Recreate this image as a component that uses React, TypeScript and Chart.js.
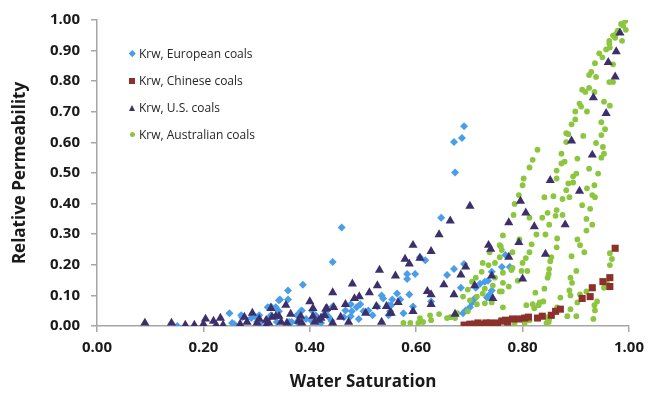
import React, { useEffect, useRef } from "react";
import { Chart, registerables } from "chart.js";

Chart.register(...registerables);

// Axis setup
const xMin = 0;
const xMax = 1;
const xStep = 0.2;
const yMin = 0;
const yMax = 1;
const yStep = 0.1;

const xTitle = "Water Saturation";
const yTitle = "Relative Permeability";

const seriesNames = [
  "Krw, European coals",
  "Krw, Chinese coals",
  "Krw, U.S. coals",
  "Krw, Australian coals",
];

// [water saturation, relative permeability]
const europeanCoals: [number, number][] = [
  [0.690, 0.653], [0.686, 0.614], [0.671, 0.601], [0.673, 0.502], [0.647, 0.354],
  [0.607, 0.225], [0.617, 0.215], [0.583, 0.170], [0.598, 0.170], [0.583, 0.154],
  [0.671, 0.186], [0.658, 0.167], [0.684, 0.125], [0.564, 0.106], [0.555, 0.087],
  [0.587, 0.103], [0.553, 0.068], [0.570, 0.087], [0.576, 0.042], [0.594, 0.064],
  [0.628, 0.080], [0.761, 0.193], [0.768, 0.232], [0.776, 0.193], [0.712, 0.125],
  [0.720, 0.138], [0.729, 0.145], [0.735, 0.148], [0.705, 0.077], [0.710, 0.090],
  [0.701, 0.061], [0.693, 0.051], [0.688, 0.042], [0.733, 0.093], [0.738, 0.103],
  [0.742, 0.116], [0.460, 0.322], [0.443, 0.209], [0.387, 0.135], [0.359, 0.116],
  [0.344, 0.087], [0.359, 0.087], [0.321, 0.061], [0.336, 0.061], [0.342, 0.048],
  [0.327, 0.035], [0.305, 0.035], [0.301, 0.013], [0.383, 0.048], [0.376, 0.035],
  [0.393, 0.023], [0.376, 0.013], [0.366, 0.013], [0.411, 0.035], [0.426, 0.035],
  [0.430, 0.042], [0.436, 0.029], [0.441, 0.016], [0.443, 0.064], [0.467, 0.051],
  [0.477, 0.071], [0.479, 0.048], [0.477, 0.032], [0.488, 0.061], [0.495, 0.071],
  [0.501, 0.048], [0.510, 0.051], [0.518, 0.035], [0.527, 0.064], [0.535, 0.100],
  [0.538, 0.090], [0.548, 0.068], [0.551, 0.048], [0.548, 0.035], [0.421, 0.010],
  [0.402, 0.019], [0.464, 0.029], [0.492, 0.023], [0.151, 0.000], [0.249, 0.042],
  [0.254, 0.010], [0.273, 0.029], [0.290, 0.026], [0.307, 0.010], [0.323, 0.026],
  [0.338, 0.013], [0.361, 0.013], [0.404, 0.051], [0.385, 0.051], [0.415, 0.016],
  [0.432, 0.035], [0.271, 0.035], [0.299, 0.029], [0.258, 0.006], [0.327, 0.064],
  [0.342, 0.084], [0.690, 0.203], [0.742, 0.177],
];

const chineseCoals: [number, number][] = [
  [0.690, 0.003], [0.701, 0.006], [0.710, 0.006], [0.716, 0.010], [0.721, 0.006],
  [0.731, 0.010], [0.740, 0.010], [0.748, 0.006], [0.753, 0.010], [0.761, 0.016],
  [0.768, 0.019], [0.772, 0.013], [0.781, 0.023], [0.793, 0.023], [0.804, 0.026],
  [0.811, 0.029], [0.828, 0.026], [0.837, 0.032], [0.854, 0.035], [0.862, 0.048],
  [0.871, 0.055], [0.912, 0.090], [0.927, 0.096], [0.931, 0.125], [0.964, 0.129],
  [0.951, 0.145], [0.964, 0.158], [0.974, 0.254],
];

const usCoals: [number, number][] = [
  [0.983, 0.958], [0.976, 0.897], [0.961, 0.862], [0.974, 0.814], [0.933, 0.746],
  [0.957, 0.695], [0.892, 0.605], [0.931, 0.559], [0.852, 0.476], [0.907, 0.441],
  [0.796, 0.408], [0.806, 0.370], [0.774, 0.338], [0.822, 0.325], [0.880, 0.331],
  [0.793, 0.273], [0.774, 0.225], [0.843, 0.235], [0.800, 0.154], [0.701, 0.392],
  [0.664, 0.344], [0.643, 0.299], [0.594, 0.264], [0.628, 0.244], [0.579, 0.219],
  [0.587, 0.203], [0.607, 0.222], [0.561, 0.164], [0.693, 0.193], [0.684, 0.167],
  [0.652, 0.135], [0.621, 0.113], [0.628, 0.103], [0.671, 0.103], [0.566, 0.077],
  [0.628, 0.071], [0.594, 0.048], [0.553, 0.042], [0.736, 0.264], [0.740, 0.251],
  [0.742, 0.164], [0.710, 0.132], [0.744, 0.090], [0.531, 0.183], [0.480, 0.138],
  [0.443, 0.109], [0.527, 0.132], [0.512, 0.109], [0.493, 0.096], [0.484, 0.090],
  [0.400, 0.080], [0.355, 0.068], [0.432, 0.058], [0.445, 0.061], [0.406, 0.058],
  [0.467, 0.071], [0.525, 0.064], [0.544, 0.064], [0.327, 0.058], [0.342, 0.032],
  [0.364, 0.039], [0.383, 0.032], [0.406, 0.032], [0.417, 0.019], [0.443, 0.010],
  [0.458, 0.029], [0.473, 0.013], [0.505, 0.042], [0.535, 0.013], [0.551, 0.042],
  [0.318, 0.003], [0.305, 0.023], [0.357, 0.010], [0.385, 0.010], [0.428, 0.035],
  [0.090, 0.010], [0.140, 0.010], [0.166, 0.003], [0.183, 0.003], [0.204, 0.023],
  [0.200, 0.006], [0.219, 0.016], [0.224, 0.003], [0.232, 0.026], [0.237, 0.003],
  [0.269, 0.006], [0.277, 0.029], [0.282, 0.013], [0.292, 0.042], [0.301, 0.010],
  [0.318, 0.019], [0.329, 0.029], [0.336, 0.032], [0.346, 0.013], [0.379, 0.016],
  [0.409, 0.013], [0.421, 0.026], [0.430, 0.055], [0.323, 0.010], [0.673, 0.039],
];

const australianCoals: [number, number][] = [
  [0.993, 0.997], [0.985, 0.987], [0.989, 0.981], [0.994, 0.968], [0.979, 0.965],
  [0.976, 0.955], [0.970, 0.949], [0.974, 0.942], [0.963, 0.932], [0.963, 0.923],
  [0.987, 0.932], [0.964, 0.910], [0.957, 0.904], [0.944, 0.891], [0.950, 0.878],
  [0.936, 0.859], [0.970, 0.855], [0.929, 0.830], [0.925, 0.820], [0.938, 0.814],
  [0.963, 0.797], [0.970, 0.797], [0.912, 0.772], [0.918, 0.765], [0.925, 0.778],
  [0.935, 0.765], [0.907, 0.727], [0.910, 0.717], [0.953, 0.733], [0.964, 0.720],
  [0.899, 0.701], [0.921, 0.701], [0.899, 0.675], [0.948, 0.666], [0.892, 0.659],
  [0.955, 0.643], [0.882, 0.630], [0.886, 0.627], [0.914, 0.621], [0.948, 0.624],
  [0.938, 0.598], [0.951, 0.585], [0.953, 0.563], [0.948, 0.550], [0.882, 0.601],
  [0.828, 0.576], [0.819, 0.543], [0.813, 0.518], [0.873, 0.563], [0.879, 0.537],
  [0.873, 0.531], [0.903, 0.547], [0.925, 0.514], [0.864, 0.508], [0.942, 0.498],
  [0.901, 0.498], [0.895, 0.489], [0.864, 0.482], [0.802, 0.482], [0.800, 0.460],
  [0.895, 0.469], [0.886, 0.466], [0.935, 0.460], [0.921, 0.450], [0.882, 0.444],
  [0.793, 0.428], [0.841, 0.421], [0.858, 0.424], [0.875, 0.415], [0.888, 0.421],
  [0.931, 0.428], [0.936, 0.421], [0.785, 0.399], [0.912, 0.395], [0.927, 0.383],
  [0.864, 0.379], [0.847, 0.370], [0.862, 0.360], [0.875, 0.363], [0.837, 0.354],
  [0.783, 0.363], [0.813, 0.354], [0.920, 0.350], [0.931, 0.331], [0.850, 0.331],
  [0.763, 0.296], [0.826, 0.299], [0.843, 0.299], [0.865, 0.286], [0.920, 0.312],
  [0.903, 0.283], [0.794, 0.283], [0.817, 0.267], [0.908, 0.264], [0.864, 0.257],
  [0.916, 0.241], [0.759, 0.260], [0.781, 0.241], [0.813, 0.241], [0.892, 0.228],
  [0.964, 0.238], [0.968, 0.219], [0.854, 0.225], [0.852, 0.212], [0.806, 0.222],
  [0.800, 0.206], [0.964, 0.199], [0.901, 0.180], [0.850, 0.186], [0.849, 0.170],
  [0.779, 0.183], [0.798, 0.180], [0.890, 0.158], [0.893, 0.141], [0.847, 0.158],
  [0.761, 0.113], [0.774, 0.129], [0.888, 0.116], [0.841, 0.122], [0.959, 0.138],
  [0.953, 0.125], [0.824, 0.109], [0.871, 0.093], [0.890, 0.100], [0.908, 0.103],
  [0.920, 0.113], [0.940, 0.080], [0.839, 0.080], [0.832, 0.077], [0.903, 0.077],
  [0.935, 0.068], [0.807, 0.068], [0.819, 0.071], [0.865, 0.061], [0.890, 0.055],
  [0.822, 0.058], [0.936, 0.051], [0.884, 0.032], [0.901, 0.032], [0.854, 0.032],
  [0.850, 0.023], [0.813, 0.019], [0.785, 0.010], [0.933, 0.023], [0.845, 0.010],
  [0.804, 0.010], [0.757, 0.264], [0.738, 0.241], [0.757, 0.225], [0.736, 0.199],
  [0.723, 0.177], [0.712, 0.158], [0.744, 0.132], [0.705, 0.145], [0.697, 0.119],
  [0.729, 0.122], [0.725, 0.106], [0.714, 0.096], [0.701, 0.084], [0.757, 0.113],
  [0.729, 0.074], [0.714, 0.071], [0.688, 0.096], [0.697, 0.048], [0.677, 0.042],
  [0.673, 0.026], [0.664, 0.029], [0.658, 0.026], [0.643, 0.039], [0.626, 0.035],
  [0.628, 0.019], [0.607, 0.026], [0.613, 0.013], [0.604, 0.010], [0.589, 0.010],
  [0.576, 0.010], [0.748, 0.158], [0.763, 0.174], [0.761, 0.248], [0.763, 0.061],
  [0.759, 0.019], [0.742, 0.077], [0.725, 0.206], [0.748, 0.206], [0.781, 0.190],
  [0.791, 0.148], [0.763, 0.141], [0.809, 0.180], [0.830, 0.068], [0.847, 0.029],
  [0.849, 0.013],
];

const COLORS = {
  european: "#4a9de8",
  chinese: "#8c302b",
  us: "#3d2f6b",
  australian: "#8cc63f",
  axis: "#a6a6a6",
  text: "#1a1a1a",
};

const FONT = '"Open Sans", "DejaVu Sans", sans-serif';

const toPoints = (arr: [number, number][]) => arr.map(([x, y]) => ({ x, y }));

function LegendMarker({ kind }: { kind: string }) {
  const wrap: React.CSSProperties = {
    width: 8,
    height: 10,
    display: "flex",
    alignItems: "center",
    justifyContent: "center",
  };
  let inner: React.CSSProperties = {};
  if (kind === "diamond") {
    inner = { width: 4.5, height: 4.5, background: COLORS.european, transform: "rotate(45deg)" };
  } else if (kind === "square") {
    inner = { width: 6, height: 6, background: COLORS.chinese };
  } else if (kind === "triangle") {
    inner = {
      width: 0,
      height: 0,
      borderLeft: "3.5px solid transparent",
      borderRight: "3.5px solid transparent",
      borderBottom: `6px solid ${COLORS.us}`,
    };
  } else {
    inner = { width: 5, height: 5, borderRadius: "50%", background: COLORS.australian };
  }
  return (
    <div style={wrap}>
      <div style={inner} />
    </div>
  );
}

export default function App() {
  const canvasRef = useRef<HTMLCanvasElement | null>(null);

  useEffect(() => {
    if (!canvasRef.current) return;
    const tickFont = { family: FONT, size: 15, weight: "bold" as const };
    const titleFont = { family: FONT, size: 17, weight: "bold" as const };
    const chart = new Chart(canvasRef.current, {
      type: "scatter",
      data: {
        datasets: [
          {
            label: seriesNames[0],
            data: toPoints(europeanCoals),
            pointStyle: "rectRot",
            pointRadius: 4,
            backgroundColor: COLORS.european,
            borderColor: COLORS.european,
            pointBorderWidth: 0,
            order: 3,
          },
          {
            label: seriesNames[1],
            data: toPoints(chineseCoals),
            pointStyle: "rect",
            pointRadius: 5,
            backgroundColor: COLORS.chinese,
            borderColor: COLORS.chinese,
            pointBorderWidth: 0,
            order: 1,
          },
          {
            label: seriesNames[2],
            data: toPoints(usCoals),
            pointStyle: "triangle",
            pointRadius: 5.3,
            backgroundColor: COLORS.us,
            borderColor: COLORS.us,
            pointBorderWidth: 0,
            order: 0,
          },
          {
            label: seriesNames[3],
            data: toPoints(australianCoals),
            pointStyle: "circle",
            pointRadius: 2.9,
            backgroundColor: COLORS.australian,
            borderColor: COLORS.australian,
            pointBorderWidth: 0,
            order: 2,
          },
        ],
      },
      options: {
        animation: false,
        responsive: false,
        devicePixelRatio: 1,
        layout: { padding: { top: 15, right: 19, left: 0, bottom: 0 } },
        plugins: {
          legend: { display: false },
          tooltip: { enabled: false },
        },
        scales: {
          x: {
            type: "linear",
            min: xMin,
            max: xMax,
            border: { display: true, color: COLORS.axis, width: 1.5 },
            grid: {
              display: true,
              drawOnChartArea: false,
              drawTicks: true,
              tickLength: 6,
              color: COLORS.axis,
              lineWidth: 1.5,
            },
            ticks: {
              stepSize: xStep,
              padding: 7,
              color: COLORS.text,
              font: tickFont,
              maxRotation: 0,
              autoSkip: false,
              callback: (v: any) => Number(v).toFixed(2),
            },
            title: {
              display: true,
              text: xTitle,
              color: COLORS.text,
              font: titleFont,
              padding: { top: 0, bottom: 3 },
            },
            afterFit: (s: any) => {
              s.height = 69;
            },
          },
          y: {
            type: "linear",
            min: yMin,
            max: yMax,
            border: { display: true, color: COLORS.axis, width: 1.5 },
            grid: {
              display: true,
              drawOnChartArea: false,
              drawTicks: true,
              tickLength: 6,
              color: COLORS.axis,
              lineWidth: 1.5,
            },
            ticks: {
              stepSize: yStep,
              padding: 11,
              color: COLORS.text,
              font: tickFont,
              autoSkip: false,
              callback: (v: any) => Number(v).toFixed(2),
            },
            title: {
              display: true,
              text: yTitle,
              color: COLORS.text,
              font: titleFont,
              padding: { top: 10, bottom: 0 },
            },
            afterFit: (s: any) => {
              s.width = 97;
            },
          },
        },
      },
    });
    return () => chart.destroy();
  }, []);

  const legendItems = [
    { name: seriesNames[0], kind: "diamond" },
    { name: seriesNames[1], kind: "square" },
    { name: seriesNames[2], kind: "triangle" },
    { name: seriesNames[3], kind: "circle" },
  ];

  return (
    <div
      style={{
        position: "absolute",
        left: 0,
        top: 0,
        width: 651,
        height: 395,
        background: "#ffffff",
        overflow: "hidden",
      }}
    >
      <canvas ref={canvasRef} width={651} height={395} style={{ display: "block" }} />
      <div style={{ position: "absolute", left: 128, top: 40 }}>
        {legendItems.map((it) => (
          <div
            key={it.name}
            style={{
              display: "flex",
              alignItems: "center",
              height: 27,
              fontFamily: FONT,
              fontSize: 12,
              color: "#262626",
              whiteSpace: "nowrap",
            }}
          >
            <LegendMarker kind={it.kind} />
            <span style={{ marginLeft: 3 }}>{it.name}</span>
          </div>
        ))}
      </div>
    </div>
  );
}
